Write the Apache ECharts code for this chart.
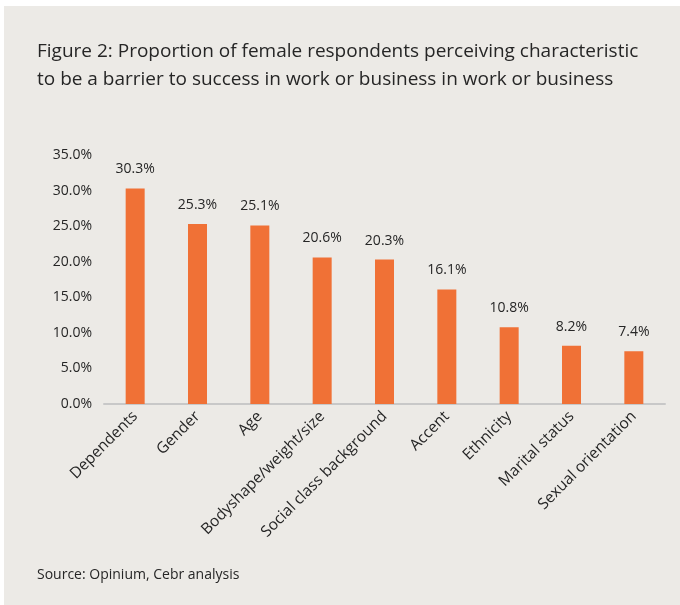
<!DOCTYPE html>
<html>
<head>
<meta charset="utf-8">
<script src="https://cdn.jsdelivr.net/npm/echarts@6/dist/echarts.min.js"></script>
<style>
  html, body { margin: 0; padding: 0; background: #ffffff; }
  #chart { width: 680px; height: 605px; }
</style>
</head>
<body>
<div id="chart"></div>
<script>
// Share of female respondents naming each characteristic as a barrier (%)
const categories = [
  'Dependents', 'Gender', 'Age', 'Bodyshape/weight/size',
  'Social class background', 'Accent', 'Ethnicity',
  'Marital status', 'Sexual orientation'
];
const shares = [30.3, 25.3, 25.1, 20.6, 20.3, 16.1, 10.8, 8.2, 7.4];
const yTicks = [0, 5, 10, 15, 20, 25, 30, 35];

const titleText = 'Figure 2: Proportion of female respondents perceiving characteristic\n' +
                  'to be a barrier to success in work or business in work or business';
const sourceText = 'Source: Opinium, Cebr analysis';

const FONT = '"Open Sans", "Noto Sans", sans-serif';
const INK = '#262626';

const chart = echarts.init(document.getElementById('chart'), null, { renderer: 'canvas' });

chart.setOption({
  backgroundColor: '#ffffff',
  animation: false,
  graphic: [
    {
      type: 'rect', z: -10, silent: true,
      shape: { x: 4, y: 6, width: 676, height: 599 },
      style: { fill: '#ECEAE6' }
    },
    {
      type: 'text', left: 37, top: 38,
      style: { text: titleText, fontFamily: FONT, fontSize: 19, lineHeight: 28, fill: INK }
    },
    {
      type: 'text', left: 37, top: 568,
      style: { text: sourceText, fontFamily: FONT, fontSize: 14, fill: INK }
    }
  ],
  grid: { left: 104, right: 15, top: 155, bottom: 201, containLabel: false },
  xAxis: {
    type: 'category',
    data: categories,
    axisLine: { show: true, lineStyle: { color: '#C8C8C8', width: 2 } },
    axisTick: { show: false },
    axisLabel: {
      interval: 0, rotate: 45, margin: 10,
      fontFamily: FONT, fontSize: 15.5, color: INK
    }
  },
  yAxis: {
    type: 'value',
    min: yTicks[0], max: yTicks[yTicks.length - 1], interval: 5,
    splitLine: { show: false },
    axisLine: { show: false },
    axisTick: { show: false },
    axisLabel: {
      margin: 12, fontFamily: FONT, fontSize: 14, color: INK,
      formatter: v => v.toFixed(1) + '%'
    }
  },
  series: [{
    type: 'bar',
    data: shares,
    barWidth: 19,
    itemStyle: { color: '#F07136' },
    label: {
      show: true, position: 'top', distance: 12,
      fontFamily: FONT, fontSize: 14, color: INK,
      formatter: p => p.value.toFixed(1) + '%'
    }
  }]
});
</script>
</body>
</html>
